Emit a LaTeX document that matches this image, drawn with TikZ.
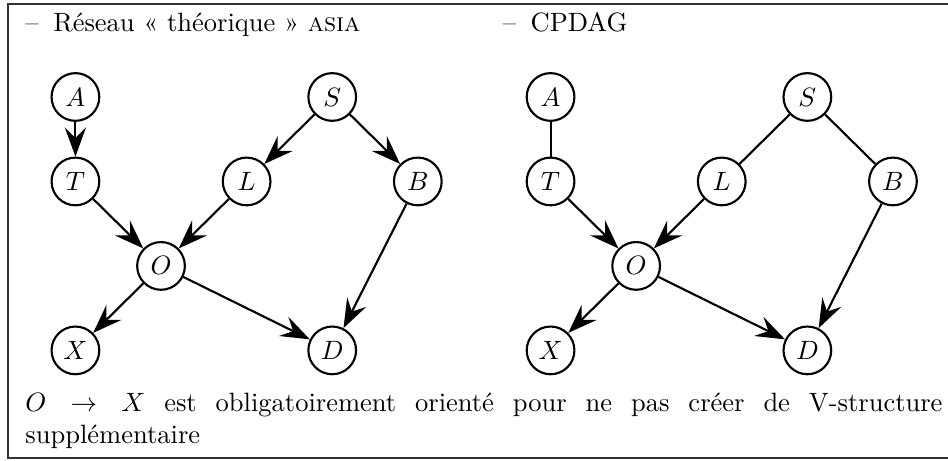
\documentclass[tikz,border=0pt]{standalone}
\usepackage{amsmath}
\usepackage{amssymb}
\usetikzlibrary{arrows.meta}

\begin{document}
\begin{tikzpicture}
[var/.style={circle,draw,thick,inner sep=1pt,minimum size=18pt},
 arc/.style={thick,-{Stealth[length=11pt,width=8pt,inset=4pt]}},
 link/.style={thick},
 title/.style={anchor=base west,inner sep=0pt}]
\useasboundingbox (0,0) rectangle (12.57,-6.10);
\draw[line width=0.8pt,black!80] (0.106,-0.053) rectangle (12.7,-6.074);
\node[title] (tasia) at (0.33,-0.42) {--\hspace{5.5pt}Réseau «~théorique~» \textsc{asia}};
\node[title] (tcpdag) at (6.66,-0.42) {--\hspace{5.5pt}CPDAG};
% reseau asia
\begin{scope}[shift={(1.0cm,-1.286cm)},x=1.135cm,y=-1.12cm]
\node[var] (A1) at (0,0) {$A$};
\node[var] (S1) at (3,0) {$S$};
\node[var] (T1) at (0,1) {$T$};
\node[var] (L1) at (2,1) {$L$};
\node[var] (B1) at (4,1) {$B$};
\node[var] (O1) at (1,2) {$O$};
\node[var] (X1) at (0,3) {$X$};
\node[var] (D1) at (3,3) {$D$};
\end{scope}
\draw[arc] (A1) -- (T1);
\draw[arc] (S1) -- (L1);
\draw[arc] (S1) -- (B1);
\draw[arc] (T1) -- (O1);
\draw[arc] (L1) -- (O1);
\draw[arc] (O1) -- (X1);
\draw[arc] (O1) -- (D1);
\draw[arc] (B1) -- (D1);
% cpdag
\begin{scope}[shift={(7.3cm,-1.286cm)},x=1.135cm,y=-1.12cm]
\node[var] (A2) at (0,0) {$A$};
\node[var] (S2) at (3,0) {$S$};
\node[var] (T2) at (0,1) {$T$};
\node[var] (L2) at (2,1) {$L$};
\node[var] (B2) at (4,1) {$B$};
\node[var] (O2) at (1,2) {$O$};
\node[var] (X2) at (0,3) {$X$};
\node[var] (D2) at (3,3) {$D$};
\end{scope}
\draw[link] (A2) -- (T2);
\draw[link] (S2) -- (L2);
\draw[link] (S2) -- (B2);
\draw[arc] (T2) -- (O2);
\draw[arc] (L2) -- (O2);
\draw[arc] (O2) -- (X2);
\draw[arc] (O2) -- (D2);
\draw[arc] (B2) -- (D2);
\node[anchor=north west,inner sep=0pt,text width=12.16cm,align=justify] (note) at (0.33,-5.2)
  {$O \rightarrow X$ est obligatoirement orienté pour ne pas créer de V-structure\linebreak supplémentaire};
\end{tikzpicture}
\end{document}
